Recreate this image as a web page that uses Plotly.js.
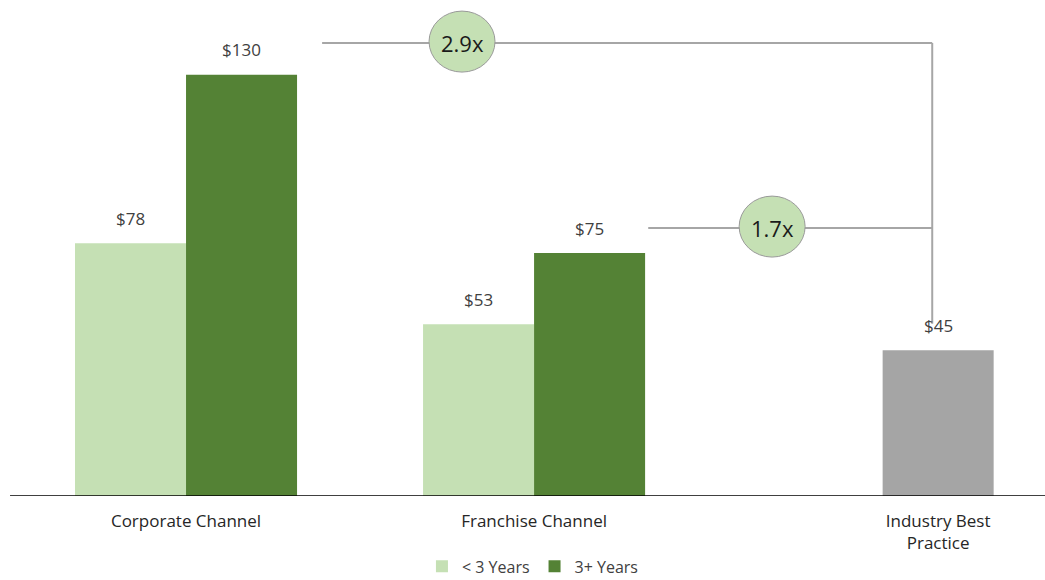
<!DOCTYPE html>
<html>
<head>
<meta charset="utf-8">
<script src="https://cdn.plot.ly/plotly-3.0.1.min.js"></script>
<style>html,body{margin:0;padding:0;background:#fff;}#chart{width:1045px;height:580px;}</style>
</head>
<body>
<div id="chart"></div>
<script>
// ---- data ----
const categories = ['Corporate Channel', 'Franchise Channel', 'Industry Best<br>Practice'];
const seriesNames = ['< 3 Years', '3+ Years'];
const under3Years = [78, 53];      // Corporate, Franchise
const over3Years = [130, 75];      // Corporate, Franchise
const industryBest = [45];         // Industry Best Practice
const valueLabels = v => '$' + v;

// ---- layout helpers (positions) ----
const groupX = [0, 1, 2.161];
const barW = 0.319;
const half = barW / 2;

const colLight = '#c5e0b4', colDark = '#548235', colGray = '#a5a5a5';
const font = 'Open Sans, Noto Sans, sans-serif';

const xLight = groupX.slice(0, 2).map(v => v - half);
const xDark = groupX.slice(0, 2).map(v => v + half);
const xInd = [groupX[2]];

const traces = [
  {type: 'bar', name: seriesNames[0], x: xLight, y: under3Years, width: barW,
   marker: {color: colLight}, hoverinfo: 'skip'},
  {type: 'bar', name: seriesNames[1], x: xDark, y: over3Years, width: barW,
   marker: {color: colDark}, hoverinfo: 'skip'},
  {type: 'bar', name: 'Industry', x: xInd, y: industryBest, width: barW,
   marker: {color: colGray}, showlegend: false, hoverinfo: 'skip'}
];

const annotations = [];
function addLabels(xs, ys) {
  xs.forEach((x, i) => annotations.push({
    x: x, y: ys[i], xref: 'x', yref: 'y', text: valueLabels(ys[i]),
    showarrow: false, yshift: 25, font: {family: font, size: 17, color: '#404040'}
  }));
}
addLabels(xLight, under3Years);
addLabels(xDark, over3Years);
addLabels(xInd, industryBest);

// connectors
const ratio1 = (over3Years[0] / industryBest[0]).toFixed(1) + 'x';
const ratio2 = (over3Years[1] / industryBest[0]).toFixed(1) + 'x';
const lineCol = '#a6a6a6';
const vx = 2.144;
const y1 = over3Years[0] + 9.8;
const y2 = over3Years[1] + 7.7;
const shapes = [
  {type: 'line', xref: 'paper', yref: 'y', x0: 0.0096, x1: 1, y0: 0, y1: 0, line: {color: '#000', width: 1.5}},
  {type: 'line', xref: 'x', yref: 'y', x0: 0.391, x1: vx, y0: y1, y1: y1, line: {color: lineCol, width: 2}},
  {type: 'line', xref: 'x', yref: 'y', x0: 1.328, x1: vx, y0: y2, y1: y2, line: {color: lineCol, width: 2}},
  {type: 'line', xref: 'x', yref: 'y', x0: vx, x1: vx, y0: y1, y1: industryBest[0] + 8.2, line: {color: lineCol, width: 2}},
  {type: 'circle', xref: 'x', yref: 'y', xsizemode: 'pixel', ysizemode: 'pixel',
   xanchor: 0.793, yanchor: y1, x0: -33, x1: 33, y0: -29, y1: 32,
   fillcolor: colLight, line: {color: '#9a9a9a', width: 1}},
  {type: 'circle', xref: 'x', yref: 'y', xsizemode: 'pixel', ysizemode: 'pixel',
   xanchor: 1.684, yanchor: y2, x0: -33, x1: 33, y0: -29, y1: 32,
   fillcolor: colLight, line: {color: '#9a9a9a', width: 1}}
];
annotations.push({x: 0.793, y: y1, xref: 'x', yref: 'y', text: ratio1, showarrow: false,
  font: {family: font, size: 22, color: '#1a1a1a'}});
annotations.push({x: 1.684, y: y2, xref: 'x', yref: 'y', text: ratio2, showarrow: false,
  font: {family: font, size: 22, color: '#1a1a1a'}});

const layout = {
  width: 1045, height: 580,
  margin: {l: 0, r: 0, t: 0, b: 84, autoexpand: false},
  paper_bgcolor: '#fff', plot_bgcolor: '#fff',
  barmode: 'overlay',
  showlegend: true,
  legend: {orientation: 'h', x: 0.51, xanchor: 'center', y: -0.142, yanchor: 'middle',
    font: {family: font, size: 16, color: '#404040'}, itemwidth: 30, tracegroupgap: 0},
  xaxis: {range: [-0.5345, 2.468], tickvals: groupX, ticktext: categories,
    showgrid: false, zeroline: false, showline: false, ticks: '', ticklabelstandoff: 13,
    automargin: false,
    tickfont: {family: font, size: 17, color: '#262626'}, fixedrange: true},
  yaxis: {range: [0, 153.1], visible: false, fixedrange: true},
  shapes: shapes,
  annotations: annotations
};

Plotly.newPlot('chart', traces, layout, {displayModeBar: false, staticPlot: true});
</script>
</body>
</html>
